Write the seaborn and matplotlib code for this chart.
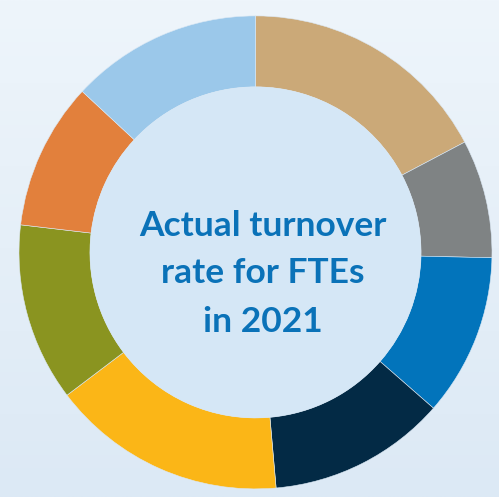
import numpy as np
import matplotlib
matplotlib.use("Agg")
import matplotlib.pyplot as plt
import seaborn as sns
from matplotlib.patches import Circle

sns.set_theme(style="white")
plt.rcParams['font.family'] = ['Lato', 'DejaVu Sans']

# Data (segment shares in degrees of the ring, read clockwise from 12 o'clock)
categories = ["Segment 1", "Segment 2", "Segment 3", "Segment 4",
              "Segment 5", "Segment 6", "Segment 7", "Segment 8"]
values = [62.2, 29.1, 39.9, 43.8, 57.85, 43.85, 36.2, 47.1]
colors = ["#CBA978", "#7F8384", "#0274BB", "#032A45",
          "#FBB617", "#8A9420", "#E2803C", "#9BC8EA"]
center_lines = ["Actual turnover", "rate for FTEs", "in 2021"]

W, H = 499, 497
fig = plt.figure(figsize=(W / 100, H / 100), dpi=100)

# background gradient
bg = fig.add_axes([0, 0, 1, 1])
grad = np.linspace(0, 1, 256).reshape(-1, 1)
top = np.array([0xEE, 0xF5, 0xFB]) / 255
bot = np.array([0xDC, 0xE9, 0xF5]) / 255
img = top[None, None, :] * (1 - grad[:, :, None]) + bot[None, None, :] * grad[:, :, None]
bg.imshow(img, aspect="auto", extent=[0, 1, 0, 1])
bg.set_axis_off()

ax = fig.add_axes([0, 0, 1, 1])
ax.set_facecolor("none")
cx, cy, R = 255.5, 252.4, 236.5

ax.pie(values, colors=colors, startangle=90, counterclock=False, radius=1.0,
       wedgeprops=dict(width=0.30, edgecolor="#DCE9F5", linewidth=0.4))
ax.add_patch(Circle((0, 0), 0.70, facecolor="#D5E7F6", edgecolor="none", zorder=3))
ax.set_xlim(-cx / R, (W - cx) / R)
ax.set_ylim(-(H - cy) / R, cy / R)
ax.set_aspect("auto")
ax.set_axis_off()

tx = (263 - cx) / R
for line, py in zip(center_lines, [236, 283, 332]):
    ax.text(tx, (cy - py) / R, line, ha="center", va="baseline",
            fontsize=25.5, fontweight="bold", color="#0A72B8", zorder=4)

fig.savefig("out.png", dpi=100)
